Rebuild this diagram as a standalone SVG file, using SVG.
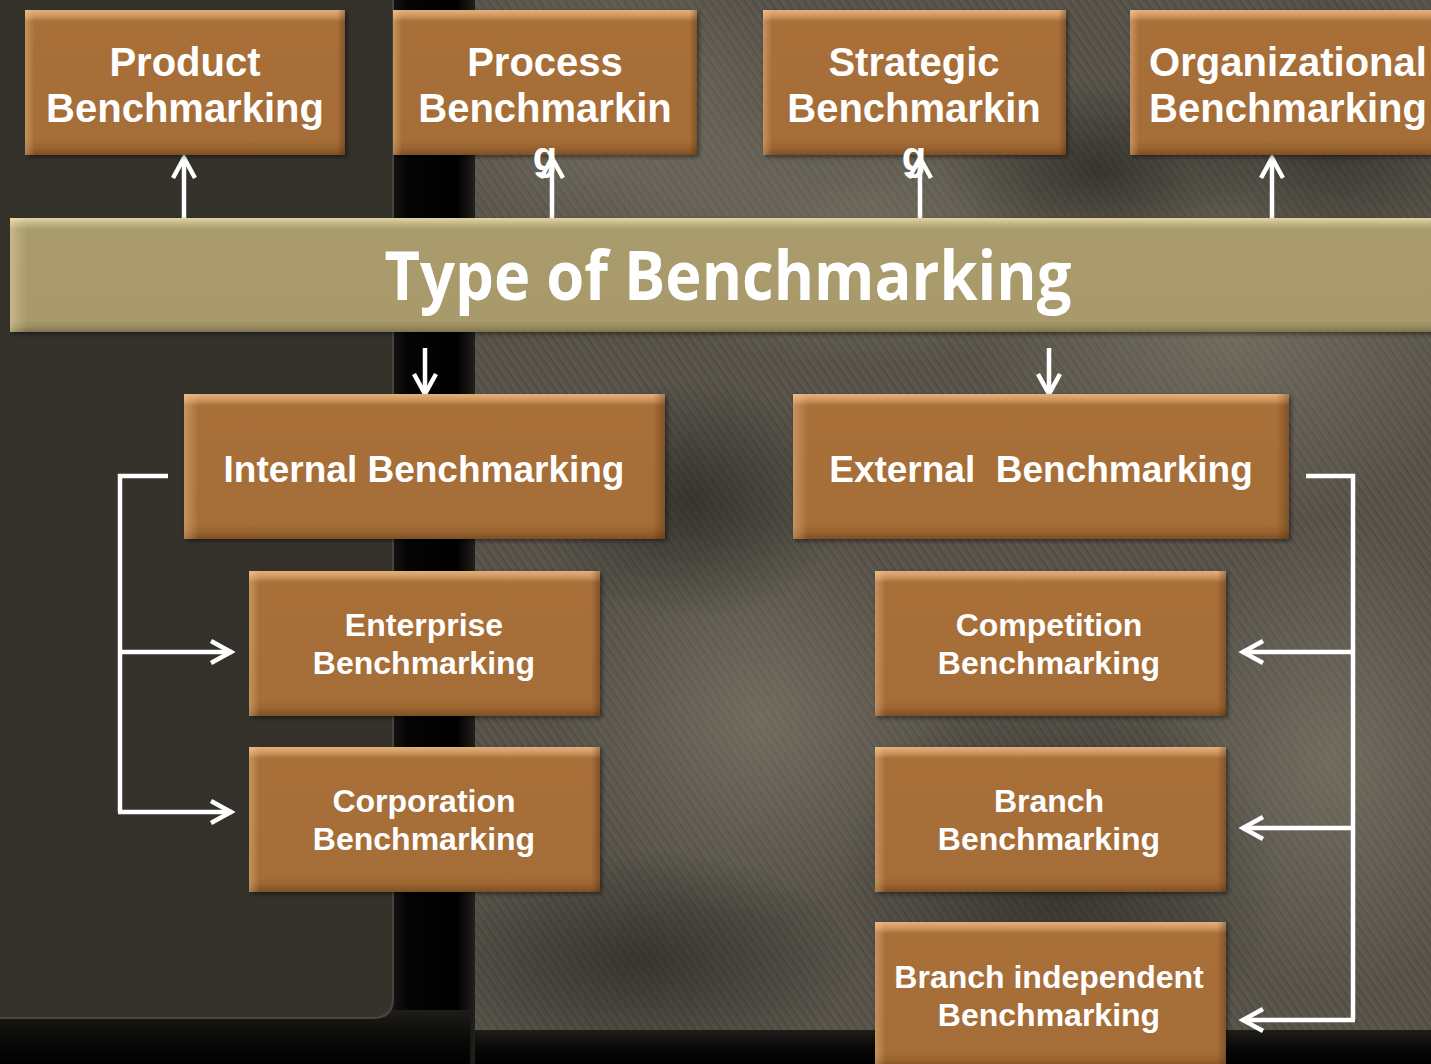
<svg xmlns="http://www.w3.org/2000/svg" width="1431" height="1064" viewBox="0 0 1431 1064">
  <defs>
    <linearGradient id="boxV" x1="0" y1="0" x2="0" y2="1">
      <stop offset="0" stop-color="#e4b07a"/>
      <stop offset="0.04" stop-color="#cf9760"/>
      <stop offset="0.08" stop-color="#a86f39"/>
      <stop offset="0.9" stop-color="#a56d37"/>
      <stop offset="0.95" stop-color="#9a632f"/>
      <stop offset="1" stop-color="#7c4f25"/>
    </linearGradient>
    <linearGradient id="boxH" x1="0" y1="0" x2="1" y2="0">
      <stop offset="0" stop-color="#ffd9a8" stop-opacity="0.35"/>
      <stop offset="0.015" stop-color="#ffcf99" stop-opacity="0.2"/>
      <stop offset="0.03" stop-color="#ffcf99" stop-opacity="0"/>
      <stop offset="0.975" stop-color="#3a200a" stop-opacity="0"/>
      <stop offset="1" stop-color="#3a200a" stop-opacity="0.35"/>
    </linearGradient>
    <linearGradient id="barV" x1="0" y1="0" x2="0" y2="1">
      <stop offset="0" stop-color="#e2d6a6"/>
      <stop offset="0.05" stop-color="#c2b584"/>
      <stop offset="0.1" stop-color="#a99b6c"/>
      <stop offset="0.9" stop-color="#a89a6b"/>
      <stop offset="0.95" stop-color="#9b8e61"/>
      <stop offset="1" stop-color="#7f744d"/>
    </linearGradient>
    <linearGradient id="barH" x1="0" y1="0" x2="1" y2="0">
      <stop offset="0" stop-color="#fff1c8" stop-opacity="0.35"/>
      <stop offset="0.006" stop-color="#fff1c8" stop-opacity="0.15"/>
      <stop offset="0.012" stop-color="#fff1c8" stop-opacity="0"/>
      <stop offset="1" stop-color="#fff1c8" stop-opacity="0"/>
    </linearGradient>
    <linearGradient id="band" x1="0" y1="0" x2="1" y2="0">
      <stop offset="0" stop-color="#1c1b18"/>
      <stop offset="0.25" stop-color="#050505"/>
      <stop offset="0.8" stop-color="#000"/>
      <stop offset="1" stop-color="#22211d"/>
    </linearGradient>
    <linearGradient id="bottomBand" x1="0" y1="0" x2="0" y2="1">
      <stop offset="0" stop-color="#1e1d19"/>
      <stop offset="0.5" stop-color="#0a0a09"/>
      <stop offset="1" stop-color="#000"/>
    </linearGradient>
    <radialGradient id="light1" cx="0.5" cy="0.5" r="0.5">
      <stop offset="0" stop-color="#8a8573" stop-opacity="0.5"/>
      <stop offset="1" stop-color="#8a8573" stop-opacity="0"/>
    </radialGradient>
    <radialGradient id="dark1" cx="0.5" cy="0.5" r="0.5">
      <stop offset="0" stop-color="#23211c" stop-opacity="0.6"/>
      <stop offset="1" stop-color="#23211c" stop-opacity="0"/>
    </radialGradient>
    <pattern id="hatch" width="7" height="7" patternUnits="userSpaceOnUse" patternTransform="rotate(-35)">
      <line x1="0" y1="0" x2="0" y2="7" stroke="#2a2822" stroke-width="2" stroke-opacity="0.25"/>
      <line x1="3" y1="0" x2="3" y2="7" stroke="#8c8776" stroke-width="1" stroke-opacity="0.18"/>
    </pattern>
    <filter id="shadow" x="-5%" y="-5%" width="110%" height="115%">
      <feGaussianBlur stdDeviation="2"/>
    </filter>
    <marker id="arrow" viewBox="-26 -15 30 30" refX="0" refY="0" markerWidth="30" markerHeight="30" markerUnits="userSpaceOnUse" orient="auto">
      <path d="M-21,-11 L-1,0 L-21,11" fill="none" stroke="#ffffff" stroke-width="4.5" stroke-linejoin="miter"/>
    </marker>
  </defs>
  <style>
    .box { fill: url(#boxV); }
    .boxh { fill: url(#boxH); }
    .shd { fill: #000; opacity: 0.45; filter: url(#shadow); }
    .t { font-family: "Liberation Sans", Arial, sans-serif; font-weight: bold; fill: #ffffff; text-anchor: middle; }
    .t40 { font-size: 40px; }
    .t36 { font-size: 37px; }
    .t31 { font-size: 32px; }
    .title { font-family: "Open Sans", "Noto Sans", sans-serif; font-weight: bold; font-size: 68px; fill: #ffffff; text-anchor: middle; }
    .conn { fill: none; stroke: #ffffff; stroke-width: 4.5; }
  </style>

  <!-- background -->
  <g id="background">
    <rect x="0" y="0" width="1431" height="1064" fill="#000"/>
    <rect x="468" y="0" width="963" height="1040" fill="#57534a"/>
    <rect x="468" y="0" width="963" height="1040" fill="url(#hatch)"/>
    <ellipse cx="620" cy="120" rx="220" ry="160" fill="url(#light1)"/>
    <ellipse cx="860" cy="230" rx="260" ry="140" fill="url(#light1)"/>
    <ellipse cx="1230" cy="330" rx="260" ry="200" fill="url(#light1)"/>
    <ellipse cx="760" cy="720" rx="200" ry="200" fill="url(#light1)"/>
    <ellipse cx="1330" cy="760" rx="180" ry="240" fill="url(#light1)"/>
    <ellipse cx="690" cy="500" rx="160" ry="120" fill="url(#dark1)"/>
    <ellipse cx="1100" cy="170" rx="160" ry="90" fill="url(#dark1)"/>
    <ellipse cx="640" cy="960" rx="220" ry="110" fill="url(#dark1)"/>
    <ellipse cx="1330" cy="130" rx="150" ry="140" fill="url(#dark1)"/>
    <ellipse cx="1060" cy="880" rx="220" ry="200" fill="url(#dark1)"/>
    <rect x="468" y="1030" width="963" height="34" fill="url(#bottomBand)"/>
    <rect x="385" y="0" width="90" height="1064" fill="url(#band)"/>
    <rect x="0" y="1010" width="470" height="54" fill="url(#bottomBand)"/>
    <path d="M0,0 H393 V998 Q393,1018 373,1018 H0 Z" fill="#35322c"/>
    <path d="M393,0 V998 Q393,1018 373,1018 H0" fill="none" stroke="#4a463d" stroke-width="2"/>
  </g>

  <!-- connectors -->
  <g id="connectors">
    <line class="conn" x1="184" y1="218" x2="184" y2="157" marker-end="url(#arrow)"/>
    <line class="conn" x1="552" y1="218" x2="552" y2="157" marker-end="url(#arrow)"/>
    <line class="conn" x1="920" y1="218" x2="920" y2="157" marker-end="url(#arrow)"/>
    <line class="conn" x1="1272" y1="218" x2="1272" y2="157" marker-end="url(#arrow)"/>
    <line class="conn" x1="425" y1="348" x2="425" y2="395" marker-end="url(#arrow)"/>
    <line class="conn" x1="1049" y1="348" x2="1049" y2="395" marker-end="url(#arrow)"/>
    <polyline class="conn" points="168,476 120,476 120,812"/>
    <line class="conn" x1="118" y1="652" x2="232" y2="652" marker-end="url(#arrow)"/>
    <line class="conn" x1="118" y1="812" x2="232" y2="812" marker-end="url(#arrow)"/>
    <polyline class="conn" points="1306,476 1353,476 1353,1020"/>
    <line class="conn" x1="1355" y1="652" x2="1242" y2="652" marker-end="url(#arrow)"/>
    <line class="conn" x1="1355" y1="828" x2="1242" y2="828" marker-end="url(#arrow)"/>
    <line class="conn" x1="1355" y1="1020" x2="1242" y2="1020" marker-end="url(#arrow)"/>
  </g>

  <!-- title bar -->
  <g id="type-of-benchmarking">
    <rect x="12" y="220" width="1430" height="114" class="shd"/>
    <rect x="10" y="218" width="1430" height="114" fill="url(#barV)"/>
    <rect x="10" y="218" width="1430" height="114" fill="url(#barH)"/>
    <text class="title" x="728" y="300" textLength="687" lengthAdjust="spacingAndGlyphs">Type of Benchmarking</text>
  </g>

  <g id="product-benchmarking">
    <rect x="27" y="12" width="320" height="145" class="shd"/>
    <rect x="25" y="10" width="320" height="145" class="box"/>
    <rect x="25" y="10" width="320" height="145" class="boxh"/>
    <text class="t t40" x="185" y="76">Product</text>
    <text class="t t40" x="185" y="122">Benchmarking</text>
  </g>

  <g id="process-benchmarking">
    <rect x="395" y="12" width="304" height="145" class="shd"/>
    <rect x="393" y="10" width="304" height="145" class="box"/>
    <rect x="393" y="10" width="304" height="145" class="boxh"/>
    <text class="t t40" x="545" y="76">Process</text>
    <text class="t t40" x="545" y="122">Benchmarkin</text>
    <text class="t t40" x="545" y="170">g</text>
  </g>

  <g id="strategic-benchmarking">
    <rect x="765" y="12" width="303" height="145" class="shd"/>
    <rect x="763" y="10" width="303" height="145" class="box"/>
    <rect x="763" y="10" width="303" height="145" class="boxh"/>
    <text class="t t40" x="914" y="76">Strategic</text>
    <text class="t t40" x="914" y="122">Benchmarkin</text>
    <text class="t t40" x="914" y="170">g</text>
  </g>

  <g id="organizational-benchmarking">
    <rect x="1132" y="12" width="310" height="145" class="shd"/>
    <rect x="1130" y="10" width="310" height="145" class="box"/>
    <rect x="1130" y="10" width="310" height="145" class="boxh"/>
    <text class="t t40" x="1288" y="76">Organizational</text>
    <text class="t t40" x="1288" y="122">Benchmarking</text>
  </g>

  <g id="internal-benchmarking">
    <rect x="186" y="396" width="481" height="145" class="shd"/>
    <rect x="184" y="394" width="481" height="145" class="box"/>
    <rect x="184" y="394" width="481" height="145" class="boxh"/>
    <text class="t t36" x="424" y="482">Internal Benchmarking</text>
  </g>

  <g id="external-benchmarking">
    <rect x="795" y="396" width="496" height="145" class="shd"/>
    <rect x="793" y="394" width="496" height="145" class="box"/>
    <rect x="793" y="394" width="496" height="145" class="boxh"/>
    <text class="t t36" x="1041" y="482" xml:space="preserve">External  Benchmarking</text>
  </g>

  <g id="enterprise-benchmarking">
    <rect x="251" y="573" width="351" height="145" class="shd"/>
    <rect x="249" y="571" width="351" height="145" class="box"/>
    <rect x="249" y="571" width="351" height="145" class="boxh"/>
    <text class="t t31" x="424" y="636">Enterprise</text>
    <text class="t t31" x="424" y="674">Benchmarking</text>
  </g>

  <g id="corporation-benchmarking">
    <rect x="251" y="749" width="351" height="145" class="shd"/>
    <rect x="249" y="747" width="351" height="145" class="box"/>
    <rect x="249" y="747" width="351" height="145" class="boxh"/>
    <text class="t t31" x="424" y="812">Corporation</text>
    <text class="t t31" x="424" y="850">Benchmarking</text>
  </g>

  <g id="competition-benchmarking">
    <rect x="877" y="573" width="351" height="145" class="shd"/>
    <rect x="875" y="571" width="351" height="145" class="box"/>
    <rect x="875" y="571" width="351" height="145" class="boxh"/>
    <text class="t t31" x="1049" y="636">Competition</text>
    <text class="t t31" x="1049" y="674">Benchmarking</text>
  </g>

  <g id="branch-benchmarking">
    <rect x="877" y="749" width="351" height="145" class="shd"/>
    <rect x="875" y="747" width="351" height="145" class="box"/>
    <rect x="875" y="747" width="351" height="145" class="boxh"/>
    <text class="t t31" x="1049" y="812">Branch</text>
    <text class="t t31" x="1049" y="850">Benchmarking</text>
  </g>

  <g id="branch-independent-benchmarking">
    <rect x="877" y="924" width="351" height="145" class="shd"/>
    <rect x="875" y="922" width="351" height="145" class="box"/>
    <rect x="875" y="922" width="351" height="145" class="boxh"/>
    <text class="t t31" x="1049" y="988">Branch independent</text>
    <text class="t t31" x="1049" y="1026">Benchmarking</text>
  </g>
</svg>
